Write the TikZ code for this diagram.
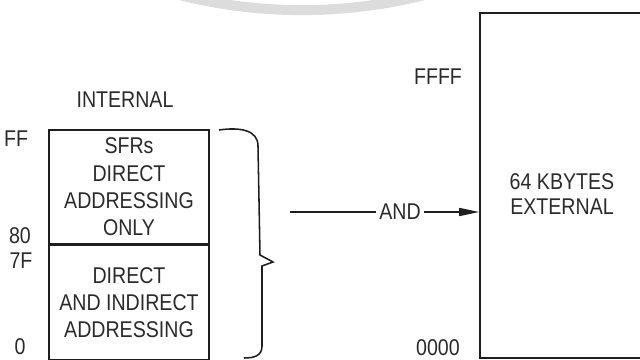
\documentclass[tikz,border=0pt]{standalone}
\usepackage{fontspec}
\setmainfont{Liberation Sans}[FakeStretch=0.86]
\usetikzlibrary{arrows.meta, positioning}
\definecolor{inkgray}{HTML}{1E1E1E}
\definecolor{textgray}{HTML}{2A2A2A}
\definecolor{markgray}{HTML}{DCDCDC}

\begin{document}
\begin{tikzpicture}[
    x=0.025cm, y=-0.025cm,
    >={Triangle[length=0.5cm, width=0.2cm]},
    line width=1.1pt,
    memcell/.style={draw=inkgray, minimum width=4cm, minimum height=2.85cm, align=center, inner sep=0pt, text=textgray, font=\fontsize{16.2}{19.4}\selectfont},
    membox/.style={draw=inkgray, minimum width=4.15cm, minimum height=8.625cm},
    addr/.style={font=\fontsize{16.2}{18}\selectfont, text=textgray, inner sep=0pt},
    lbl/.style={font=\fontsize{16.2}{18}\selectfont, align=center, text=textgray},
]
\useasboundingbox (0,0) rectangle (640,360);
\clip (0,0) rectangle (640,360);

% watermark arc at the top
\draw[markgray, line width=0.25cm] (302,-488) circle [radius=12.45cm];

% Internal memory
\node[lbl] (internal) at (125,100) {INTERNAL};
\node[memcell] (sfr) at (129,187) {SFRs\\DIRECT\\ADDRESSING\\ONLY};
\node[memcell, below=0pt of sfr] (ram) {DIRECT\\AND INDIRECT\\ADDRESSING};

% Internal addresses
\node[addr] (ff) at (16,139) {FF};
\node[addr] (a80) at (20,236) {80};
\node[addr] (a7f) at (21,261) {7F};
\node[addr] (a0) at (20,347) {0};

% Brace over both blocks
\coordinate (bracetip) at (273,262);
\draw[inkgray] (219,130) .. controls (240,127) and (258,130) .. (258,146) -- (260,255) -- (bracetip) -- (262,266) -- (262,346) .. controls (262,356) and (254,358) .. (244,358);

% External memory
\node[membox] (ext) at (563,185.5) {};
\node[lbl] (extlbl) at (562,194) {64 KBYTES\\EXTERNAL};
\node[addr] (ffff) at (438,77) {FFFF};
\node[addr] (a0000) at (438,348) {0000};

% Arrow: internal AND external
\coordinate (andfrom) at (290,212);
\node[lbl, inner sep=2pt] (and) at (400,212) {AND};
\draw[inkgray] (andfrom) -- (and.west);
\draw[inkgray, ->] (and.east) -- (ext.west |- and);

\end{tikzpicture}
\end{document}
